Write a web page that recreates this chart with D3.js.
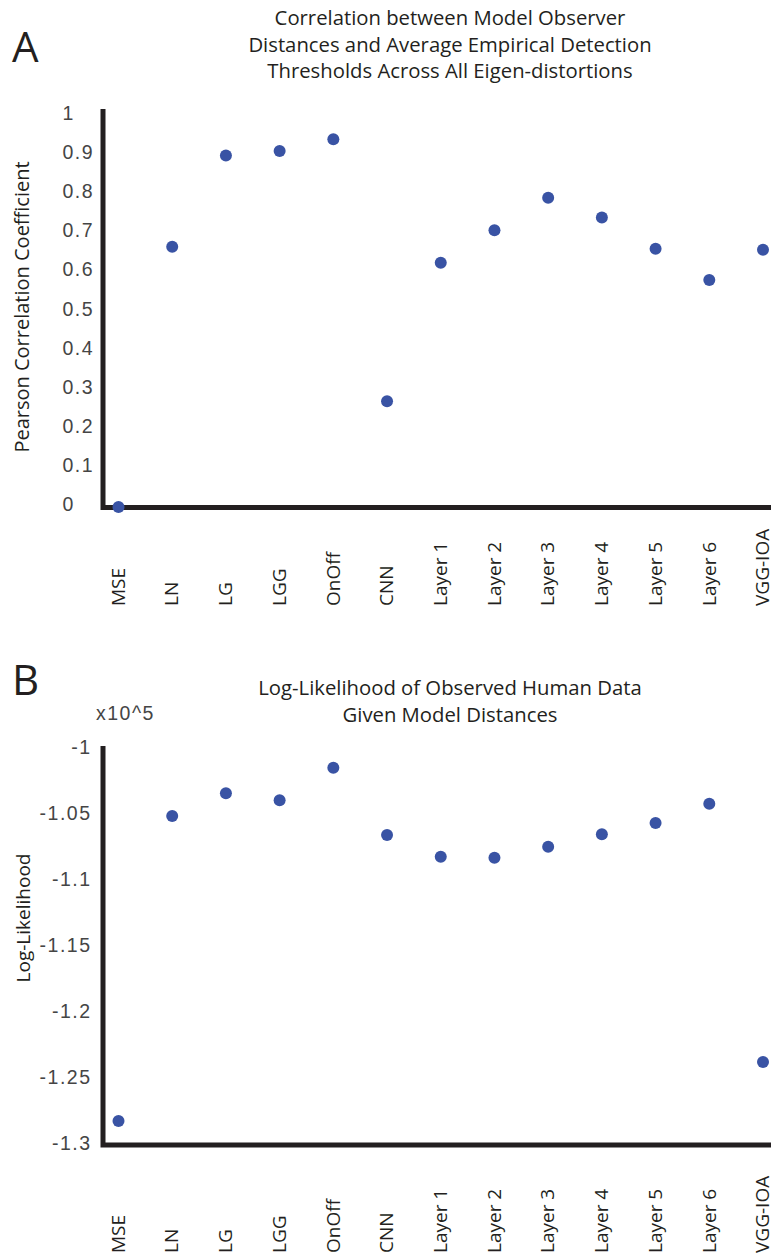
<!DOCTYPE html>
<html>
<head>
<meta charset="utf-8">
<script src="https://cdn.jsdelivr.net/npm/d3@7"></script>
<style>
  body { margin: 0; background: #fff; }
  svg { display: block; }
</style>
</head>
<body>
<svg id="fig" width="771" height="1258"></svg>
<script>
// Model observers compared in both panels
const models = ["MSE", "LN", "LG", "LGG", "OnOff", "CNN",
  "Layer 1", "Layer 2", "Layer 3", "Layer 4", "Layer 5", "Layer 6", "VGG-IOA"];

// Panel A: Pearson correlation between model distances and detection thresholds
const pearsonR = [-0.008, 0.658, 0.891, 0.903, 0.933, 0.263,
  0.617, 0.700, 0.783, 0.733, 0.653, 0.573, 0.650];
const pearsonTicks = [0, 0.1, 0.2, 0.3, 0.4, 0.5, 0.6, 0.7, 0.8, 0.9, 1];
const pearsonTickLabels = ["0", "0.1", "0.2", "0.3", "0.4", "0.5", "0.6", "0.7", "0.8", "0.9", "1"];

// Panel B: log-likelihood of the human data (units of 10^5)
const logLik = [-1.2835, -1.0521, -1.0349, -1.0402, -1.0155, -1.0665,
  -1.0830, -1.0838, -1.0754, -1.0660, -1.0574, -1.0428, -1.2388];
const logLikTicks = [-1.3, -1.25, -1.2, -1.15, -1.1, -1.05, -1];
const logLikTickLabels = ["-1.3", "-1.25", "-1.2", "-1.15", "-1.1", "-1.05", "-1"];

const titleA = ["Correlation between Model Observer",
  "Distances and Average Empirical Detection",
  "Thresholds Across All Eigen-distortions"];
const titleB = ["Log-Likelihood of Observed Human Data", "Given Model Distances"];

const INK = "#231f20";
const TICK_INK = "#454545";
const DOT = "#3953a4";
const TEXT_FONT = "'Open Sans', 'Noto Sans', sans-serif";
const NUM_FONT = "'Liberation Sans', Arial, sans-serif";

const svg = d3.select("#fig");

const x = d3.scalePoint().domain(models).range([118.5, 763]);

function drawPanel(p) {
  const g = svg.append("g");
  const y = d3.scaleLinear().domain(p.domain).range([p.bottom, p.top]);

  // panel letter
  g.append("text")
    .attr("x", 12).attr("y", p.letterY)
    .attr("font-family", TEXT_FONT).attr("font-size", 42)
    .attr("fill", INK).text(p.letter);

  // title
  g.append("g").selectAll("text").data(p.title).join("text")
    .attr("x", 450).attr("y", (d, i) => p.titleY + i * 26.7)
    .attr("text-anchor", "middle")
    .attr("font-family", TEXT_FONT).attr("font-size", 20.3)
    .attr("fill", INK).text(d => d);

  // axes (left and bottom only)
  const axisX = 103;
  g.append("path")
    .attr("d", d3.line()([[axisX, y.range()[1]], [axisX, y.range()[0]], [771, y.range()[0]]]))
    .attr("fill", "none").attr("stroke", INK).attr("stroke-width", 5)
    .attr("stroke-linejoin", "miter");

  // y tick labels
  g.append("g").selectAll("text").data(p.ticks).join("text")
    .attr("x", p.tickX)
    .attr("y", d => y(d))
    .attr("dy", "0.36em")
    .attr("text-anchor", p.tickAnchor)
    .attr("font-family", NUM_FONT).attr("font-size", 19.5)
    .attr("letter-spacing", "1.5px")
    .attr("fill", TICK_INK)
    .text((d, i) => p.tickLabels[i]);

  // exponent note
  if (p.exponent) {
    g.append("text")
      .attr("x", 96).attr("y", p.exponentY)
      .attr("font-family", NUM_FONT).attr("font-size", 19.5)
      .attr("letter-spacing", "1.5px")
      .attr("fill", TICK_INK).text(p.exponent);
  }

  // y axis title
  g.append("text")
    .attr("transform", `translate(${p.ylabelX},${p.ylabelY}) rotate(-90)`)
    .attr("text-anchor", "middle")
    .attr("font-family", TEXT_FONT).attr("font-size", p.ylabelSize)
    .attr("fill", INK).text(p.ylabel);

  // category labels
  g.append("g").selectAll("text").data(models).join("text")
    .attr("transform", d => `translate(${x(d)},${p.labelBottom}) rotate(-90)`)
    .attr("dy", "0.33em")
    .attr("text-anchor", "start")
    .attr("font-family", TEXT_FONT).attr("font-size", 19)
    .attr("fill", INK).text(d => d);

  // points
  g.append("g").selectAll("circle").data(p.values).join("circle")
    .attr("cx", (d, i) => x(models[i]))
    .attr("cy", d => y(d))
    .attr("r", 6)
    .attr("fill", DOT);
}

drawPanel({
  letter: "A", letterY: 62,
  title: titleA, titleY: 25,
  domain: [-0.009, 1.0102], top: 109, bottom: 507.5,
  ticks: pearsonTicks, tickLabels: pearsonTickLabels,
  tickX: 62.5, tickAnchor: "start",
  ylabel: "Pearson Correlation Coefficient", ylabelX: 29, ylabelY: 307, ylabelSize: 20,
  labelBottom: 606,
  values: pearsonR
});

drawPanel({
  letter: "B", letterY: 695,
  title: titleB, titleY: 695,
  domain: [-1.3017, -0.999], top: 746, bottom: 1145,
  ticks: logLikTicks, tickLabels: logLikTickLabels,
  tickX: 91.5, tickAnchor: "end",
  exponent: "x10^5", exponentY: 720,
  ylabel: "Log-Likelihood", ylabelX: 30, ylabelY: 918, ylabelSize: 19,
  labelBottom: 1253,
  values: logLik
});
</script>
</body>
</html>
